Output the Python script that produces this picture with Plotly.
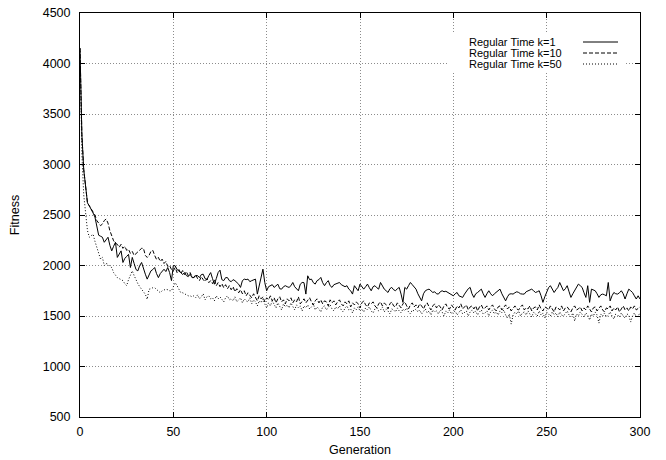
import plotly.graph_objects as go

# ---------------- data ----------------
series_names = ["Regular Time k=1", "Regular Time k=10", "Regular Time k=50"]

fitness_k1 = [
    4150, 3300, 2950, 2750, 2620, 2590, 2560, 2520, 2480, 2400,
    2300, 2290, 2280, 2230, 2260, 2280, 2200, 2145, 2190, 2230,
    2080, 2120, 2145, 2030, 2070, 2090, 2110, 1980, 2080, 2020,
    1960, 1947, 2000, 2030, 1960, 1914, 1865, 1900, 1947, 1960,
    1980, 1920, 1880, 1920, 1947, 1963, 1940, 1980, 1930, 1850,
    2000, 1997, 1960, 1947, 1930, 1910, 1930, 1900, 1890, 1914,
    1880, 1880, 1900, 1900, 1880, 1910, 1914, 1870, 1860, 1900,
    1930, 1870, 1815, 1870, 1930, 1954, 1860, 1850, 1880, 1880,
    1850, 1840, 1860, 1850, 1830, 1815, 1783, 1850, 1865, 1860,
    1865, 1840, 1850, 1860, 1865, 1717, 1800, 1850, 1964, 1830,
    1750, 1790, 1800, 1810, 1783, 1800, 1815, 1770, 1766, 1790,
    1800, 1790, 1783, 1800, 1832, 1790, 1766, 1750, 1815, 1832,
    1830, 1717, 1898, 1860, 1865, 1830, 1816, 1850, 1860, 1882,
    1830, 1800, 1830, 1850, 1800, 1783, 1810, 1816, 1820, 1832,
    1810, 1800, 1790, 1800, 1766, 1750, 1717, 1800, 1780, 1750,
    1816, 1790, 1766, 1790, 1816, 1780, 1750, 1790, 1800, 1780,
    1766, 1832, 1790, 1766, 1750, 1733, 1770, 1783, 1760, 1750,
    1770, 1783, 1717, 1635, 1783, 1766, 1800, 1832, 1810, 1790,
    1766, 1720, 1680, 1650, 1720, 1750, 1760, 1766, 1750, 1733,
    1740, 1720, 1717, 1740, 1750, 1740, 1745, 1733, 1720, 1710,
    1700, 1720, 1733, 1700, 1690, 1684, 1717, 1750, 1770, 1783,
    1720, 1684, 1720, 1733, 1750, 1766, 1720, 1684, 1720, 1750,
    1720, 1700, 1720, 1733, 1750, 1766, 1720, 1680, 1650, 1690,
    1717, 1720, 1717, 1730, 1740, 1733, 1720, 1717, 1717, 1740,
    1750, 1760, 1766, 1750, 1733, 1740, 1750, 1700, 1635, 1690,
    1733, 1780, 1800, 1760, 1733, 1760, 1783, 1832, 1780, 1750,
    1770, 1800, 1740, 1684, 1720, 1750, 1780, 1816, 1800, 1783,
    1730, 1684, 1800, 1635, 1766, 1760, 1750, 1720, 1684, 1710,
    1717, 1710, 1700, 1832, 1650, 1700, 1733, 1720, 1717, 1730,
    1750, 1720, 1668, 1720, 1766, 1750, 1733, 1700, 1668, 1700, 1668,
]

fitness_k10 = [
    4150, 3300, 2950, 2750, 2620, 2590, 2560, 2540, 2500, 2445,
    2420, 2395, 2410, 2445, 2460, 2420, 2345, 2300, 2245, 2220,
    2210, 2180, 2210, 2170, 2190, 2150, 2160, 2120, 2140, 2100,
    2120, 2140, 2160, 2170, 2170, 2100, 2080, 2100, 2140, 2150,
    2100, 2060, 2080, 2040, 2063, 2020, 2040, 1990, 2000, 1960,
    1947, 1980, 1930, 1960, 1920, 1950, 1910, 1940, 1900, 1930,
    1890,
    1880, 1910, 1870, 1850, 1890, 1860, 1840, 1870, 1830, 1850,
    1820, 1860, 1800, 1830, 1790, 1820, 1780, 1810, 1770, 1800,
    1760, 1790, 1740, 1770, 1730, 1760, 1720, 1750, 1700, 1730,
    1710, 1680, 1720, 1690, 1650, 1700, 1670, 1690, 1640, 1680,
    1660, 1700, 1650, 1680, 1630, 1670, 1690, 1640, 1660, 1620,
    1670, 1650, 1680, 1630, 1660, 1640, 1690, 1620, 1650, 1670,
    1630, 1660, 1680, 1640, 1610, 1650, 1670, 1630, 1660, 1620,
    1650, 1640, 1600, 1660, 1630, 1650, 1610, 1640, 1660, 1620,
    1600, 1640, 1620, 1650, 1590, 1630, 1610, 1640, 1620, 1580,
    1630, 1650, 1610, 1590, 1630, 1620, 1640, 1600, 1580, 1620,
    1640, 1600, 1630, 1610, 1570, 1620, 1640, 1600, 1590, 1630,
    1610, 1580, 1620, 1640, 1600, 1570, 1610, 1630, 1590, 1610,
    1580, 1620, 1600, 1570, 1610, 1630, 1590, 1560, 1600, 1620,
    1580, 1610, 1590, 1560, 1600, 1620, 1580, 1570, 1610, 1590,
    1560, 1600, 1580, 1620, 1570, 1590, 1610, 1560, 1590, 1600,
    1570, 1600, 1550, 1590, 1610, 1570, 1580, 1600, 1560, 1590,
    1610, 1570, 1550, 1590, 1600, 1560, 1580, 1610, 1570, 1590,
    1550, 1580, 1600, 1570, 1560, 1590, 1610, 1560, 1580, 1570,
    1600, 1550, 1580, 1590, 1560, 1610, 1570, 1550, 1590, 1580,
    1560, 1600, 1570, 1540, 1590, 1580, 1560, 1600, 1550, 1580,
    1590, 1560, 1540, 1580, 1600, 1560, 1570, 1590, 1550, 1580,
    1560, 1600, 1570, 1540, 1580, 1590, 1550, 1570, 1600, 1560,
    1540, 1580, 1570, 1600, 1550, 1580, 1560, 1590, 1540, 1570,
    1600, 1560, 1580, 1550, 1590, 1570, 1600, 1560, 1580, 1590,
]

fitness_k50 = [
    4150, 3100, 2700, 2480, 2345, 2280, 2300, 2310, 2240, 2180,
    2100, 2063, 2080, 2000, 2020, 2013, 1990, 1980, 1930, 1900,
    1880, 1870, 1860, 1850, 1820, 1800, 1860, 1914, 1947, 1900,
    1850, 1820, 1790, 1765, 1740, 1715, 1665, 1765, 1770, 1780,
    1780, 1760, 1740, 1730, 1750, 1760, 1765, 1760, 1750, 1750,
    1790, 1830, 1800, 1760, 1730, 1730, 1720, 1710, 1700, 1700,
    1690,
    1700, 1680, 1710, 1670, 1690, 1720, 1660, 1690, 1700, 1670,
    1680, 1650, 1700, 1670, 1690, 1660, 1640, 1680, 1700, 1660,
    1670, 1650, 1690, 1640, 1660, 1680, 1630, 1670, 1650, 1640,
    1680, 1620, 1660, 1640, 1600, 1650, 1630, 1670, 1620, 1580,
    1630, 1600, 1650, 1610, 1580, 1630, 1600, 1560, 1620, 1590,
    1610, 1580, 1630, 1590, 1560, 1610, 1580, 1600, 1550, 1600,
    1580, 1610, 1570, 1590, 1620, 1560, 1590, 1570, 1540, 1590,
    1600, 1560, 1580, 1610, 1570, 1550, 1590, 1570, 1600, 1560,
    1540, 1580, 1600, 1560, 1570, 1530, 1580, 1560, 1590, 1550,
    1570, 1540, 1580, 1560, 1590, 1550, 1530, 1570, 1580, 1550,
    1560, 1590, 1540, 1570, 1550, 1520, 1570, 1560, 1540, 1580,
    1550, 1530, 1570, 1550, 1580, 1540, 1520, 1560, 1550, 1570,
    1540, 1560, 1520, 1550, 1570, 1530, 1550, 1510, 1560, 1540,
    1550, 1520, 1560, 1540, 1500, 1550, 1530, 1560, 1520, 1540,
    1550, 1510, 1540, 1560, 1520, 1540, 1550, 1500, 1540, 1560,
    1530, 1550, 1510, 1540, 1560, 1520, 1530, 1550, 1500, 1540,
    1560, 1520, 1540, 1510, 1550, 1530, 1560, 1510, 1480, 1520,
    1420, 1510, 1540, 1520, 1550, 1500, 1530, 1540, 1510, 1550,
    1520, 1490, 1540, 1520, 1500, 1550, 1510, 1530, 1480, 1540,
    1520, 1500, 1540, 1510, 1530, 1490, 1540, 1510, 1500, 1530,
    1550, 1510, 1490, 1530, 1450, 1520, 1500, 1540, 1510, 1490,
    1530, 1510, 1460, 1520, 1500, 1540, 1510, 1430, 1520, 1500,
    1530, 1490, 1510, 1540, 1500, 1470, 1520, 1510, 1490, 1530,
    1500, 1480, 1520, 1510, 1440, 1500, 1530, 1490, 1510, 1520,
]

x_ticks = [0, 50, 100, 150, 200, 250, 300]
y_ticks = [500, 1000, 1500, 2000, 2500, 3000, 3500, 4000, 4500]
x_title = "Generation"
y_title = "Fitness"

# ---------------- figure ----------------
W, H = 666, 460
ML, MR, MT, MB = 80, 26, 13, 43
PW, PH = W - ML - MR, H - MT - MB


def px(xpix):
    return (xpix - ML) / PW


def py(ypix):
    return (H - MB - ypix) / PH


FONT = "Liberation Sans, Arial, Helvetica, sans-serif"
TICK_SIZE = 12.5
KEY_SIZE = 11
dashes = ["solid", "4px,2px", "1px,2px"]
all_series = [fitness_k1, fitness_k10, fitness_k50]

fig = go.Figure()
for name, vals, dash in zip(series_names, all_series, dashes):
    fig.add_trace(go.Scatter(
        x=list(range(len(vals))), y=vals, mode="lines", name=name,
        line=dict(color="black", width=1, dash=dash),
        showlegend=False,
    ))

axis_common = dict(
    showline=True, linecolor="black", linewidth=1, mirror="allticks",
    ticks="inside", ticklen=5, tickcolor="black", tickwidth=1,
    showgrid=True, gridcolor="#8c8c8c", gridwidth=1, griddash="1px,2px",
    zeroline=False, tickfont=dict(family=FONT, size=TICK_SIZE, color="black"),
)

fig.update_xaxes(range=[0, 300], tickvals=x_ticks, ticklabelstandoff=3,
                 title=dict(text=x_title, font=dict(family=FONT, size=TICK_SIZE, color="black"), standoff=7),
                 **axis_common)
fig.update_yaxes(range=[500, 4500], tickvals=y_ticks, ticklabelstandoff=6,
                 title=dict(text=y_title, font=dict(family=FONT, size=TICK_SIZE, color="black"), standoff=20),
                 **axis_common)

# key (gnuplot-style: text left, line sample right) on a white background
fig.add_shape(type="rect", xref="paper", yref="paper",
              x0=px(449), x1=px(626), y0=py(73), y1=py(33),
              fillcolor="white", line=dict(width=0), layer="above")
rows_y = [42, 53, 64]
for name, dash, ry in zip(series_names, dashes, rows_y):
    fig.add_annotation(xref="paper", yref="paper", x=px(467), y=py(ry),
                       text=name, showarrow=False, xanchor="left", yanchor="middle",
                       font=dict(family=FONT, size=KEY_SIZE, color="black"))
    fig.add_shape(type="line", xref="paper", yref="paper",
                  x0=px(583), x1=px(618), y0=py(ry), y1=py(ry),
                  line=dict(color="black", width=1, dash=dash), layer="above")

fig.update_layout(
    width=W, height=H,
    margin=dict(l=ML, r=MR, t=MT, b=MB, autoexpand=False),
    paper_bgcolor="white", plot_bgcolor="white",
    font=dict(family=FONT, size=TICK_SIZE, color="black"),
)

fig.write_html("out.html")
